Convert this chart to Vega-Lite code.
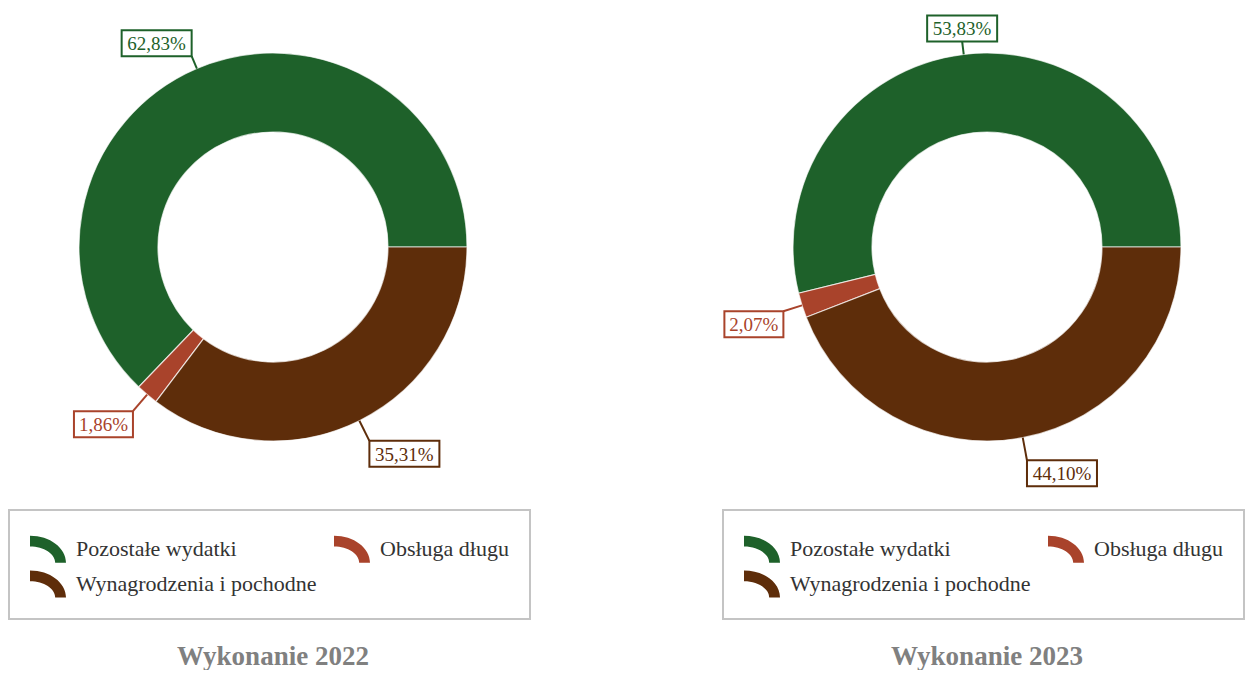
{
  "$schema": "https://vega.github.io/schema/vega-lite/v6.json",
  "background": "#ffffff",
  "padding": {"left": 8, "top": 0, "right": 0, "bottom": 0},
  "bounds": "flush",
  "spacing": 194,
  "config": {
    "view": {"stroke": null},
    "locale": {"number": {"decimal": ",", "thousands": "\u00a0", "grouping": [3], "currency": ["", " zł"]}}
  },
  "data": {
    "values": [
      {"rok": "2022", "kat": "Pozostałe wydatki", "udzial": 0.6283, "kolejnosc": 3},
      {"rok": "2022", "kat": "Obsługa długu", "udzial": 0.0186, "kolejnosc": 2},
      {"rok": "2022", "kat": "Wynagrodzenia i pochodne", "udzial": 0.3531, "kolejnosc": 1},
      {"rok": "2023", "kat": "Pozostałe wydatki", "udzial": 0.5383, "kolejnosc": 3},
      {"rok": "2023", "kat": "Obsługa długu", "udzial": 0.0207, "kolejnosc": 2},
      {"rok": "2023", "kat": "Wynagrodzenia i pochodne", "udzial": 0.4410, "kolejnosc": 1}
    ]
  },
  "resolve": {"scale": {"color": "independent", "stroke": "independent", "theta": "independent"}, "legend": {"color": "independent"}},
  "hconcat": [
    {
      "width": 520,
      "height": 494,
      "title": {"text": "Wykonanie 2022", "orient": "bottom", "anchor": "middle", "frame": "group", "offset": 24, "font": "Liberation Serif", "fontSize": 27, "fontWeight": "bold", "color": "#808080"},
      "transform": [
        {"filter": "datum.rok === '2022'"},
        {"window": [{"op": "sum", "field": "udzial", "as": "kon"}], "sort": [{"field": "kolejnosc", "order": "ascending"}], "frame": [null, 0]}
      ],
      "encoding": {
        "order": {"field": "kolejnosc", "type": "quantitative"},
        "color": {
          "field": "kat", "type": "nominal",
          "scale": {"domain": ["Pozostałe wydatki", "Obsługa długu", "Wynagrodzenia i pochodne"], "range": ["#1e612a", "#a9432b", "#5e2d0a"]},
          "legend": {
            "title": null, "orient": "none", "legendX": -4, "legendY": 510,
            "direction": "horizontal", "columns": 2,
            "symbolType": "M -1 -0.75 A 2 1.5 0 0 1 1 0.75 L 0.4 0.75 A 1.4 0.9 0 0 0 -1 -0.15 Z",
            "symbolSize": 1296, "symbolStrokeWidth": 0,
            "labelFont": "Liberation Serif", "labelFontSize": 22, "labelColor": "#333333", "labelLimit": 400,
            "labelOffset": 10, "columnPadding": 17, "rowPadding": 3,
            "padding": 21, "strokeColor": "#c4c4c4", "fillColor": "#ffffff",
            "encode": {"legend": {"update": {"strokeWidth": {"value": 2}}}}
          }
        }
      },
      "layer": [
        {
          "mark": {"type": "arc", "outerRadius": 194, "innerRadius": 115, "stroke": "#ffffff", "strokeWidth": 1.2, "strokeOpacity": 0.7},
          "encoding": {"theta": {"field": "udzial", "type": "quantitative", "stack": true, "scale": {"domain": [0, 1], "range": [1.5707963, 7.8539816]}}}
        },
        {
          "mark": {"type": "rule", "strokeWidth": 2},
          "encoding": {
            "x": {"value": {"expr": "260 + 194*cos(2*PI*(datum.kon - datum.udzial/2))"}},
            "y": {"value": {"expr": "247 + 194*sin(2*PI*(datum.kon - datum.udzial/2))"}},
            "x2": {"value": {"expr": "260 + (212 + 5*sin(2*PI*(datum.kon - datum.udzial/2)))*cos(2*PI*(datum.kon - datum.udzial/2))"}},
            "y2": {"value": {"expr": "247 + (212 + 5*sin(2*PI*(datum.kon - datum.udzial/2)))*sin(2*PI*(datum.kon - datum.udzial/2))"}}
          }
        },
        {
          "mark": {"type": "rect", "strokeWidth": 2},
          "encoding": {
            "color": {"value": "#ffffff"},
            "stroke": {"field": "kat", "type": "nominal", "legend": null,
              "scale": {"domain": ["Pozostałe wydatki", "Obsługa długu", "Wynagrodzenia i pochodne"], "range": ["#1e612a", "#a9432b", "#5e2d0a"]}},
            "x": {"value": {"expr": "260 + (212 + 5*sin(2*PI*(datum.kon - datum.udzial/2)))*cos(2*PI*(datum.kon - datum.udzial/2)) + (abs(cos(2*PI*(datum.kon - datum.udzial/2))) < 0.15 ? 0 : (cos(2*PI*(datum.kon - datum.udzial/2)) > 0 ? 1 : -1)) * (datum.udzial < 0.1 ? 29.5 : 35) - (datum.udzial < 0.1 ? 29.5 : 35)"}},
            "x2": {"value": {"expr": "260 + (212 + 5*sin(2*PI*(datum.kon - datum.udzial/2)))*cos(2*PI*(datum.kon - datum.udzial/2)) + (abs(cos(2*PI*(datum.kon - datum.udzial/2))) < 0.15 ? 0 : (cos(2*PI*(datum.kon - datum.udzial/2)) > 0 ? 1 : -1)) * (datum.udzial < 0.1 ? 29.5 : 35) + (datum.udzial < 0.1 ? 29.5 : 35)"}},
            "y": {"value": {"expr": "247 + (212 + 5*sin(2*PI*(datum.kon - datum.udzial/2)))*sin(2*PI*(datum.kon - datum.udzial/2)) + (sin(2*PI*(datum.kon - datum.udzial/2)) < 0 ? -1 : 1) * 13 - 13"}},
            "y2": {"value": {"expr": "247 + (212 + 5*sin(2*PI*(datum.kon - datum.udzial/2)))*sin(2*PI*(datum.kon - datum.udzial/2)) + (sin(2*PI*(datum.kon - datum.udzial/2)) < 0 ? -1 : 1) * 13 + 13"}}
          }
        },
        {
          "mark": {"type": "text", "font": "Liberation Serif", "fontSize": 19, "align": "center", "baseline": "middle"},
          "encoding": {
            "text": {"field": "udzial", "type": "quantitative", "format": ".2%"},
            "x": {"value": {"expr": "260 + (212 + 5*sin(2*PI*(datum.kon - datum.udzial/2)))*cos(2*PI*(datum.kon - datum.udzial/2)) + (abs(cos(2*PI*(datum.kon - datum.udzial/2))) < 0.15 ? 0 : (cos(2*PI*(datum.kon - datum.udzial/2)) > 0 ? 1 : -1)) * (datum.udzial < 0.1 ? 29.5 : 35)"}},
            "y": {"value": {"expr": "247.7 + (212 + 5*sin(2*PI*(datum.kon - datum.udzial/2)))*sin(2*PI*(datum.kon - datum.udzial/2)) + (sin(2*PI*(datum.kon - datum.udzial/2)) < 0 ? -1 : 1) * 13"}}
          }
        }
      ]
    },
    {
      "width": 520,
      "height": 494,
      "title": {"text": "Wykonanie 2023", "orient": "bottom", "anchor": "middle", "frame": "group", "offset": 24, "font": "Liberation Serif", "fontSize": 27, "fontWeight": "bold", "color": "#808080"},
      "transform": [
        {"filter": "datum.rok === '2023'"},
        {"window": [{"op": "sum", "field": "udzial", "as": "kon"}], "sort": [{"field": "kolejnosc", "order": "ascending"}], "frame": [null, 0]}
      ],
      "encoding": {
        "order": {"field": "kolejnosc", "type": "quantitative"},
        "color": {
          "field": "kat", "type": "nominal",
          "scale": {"domain": ["Pozostałe wydatki", "Obsługa długu", "Wynagrodzenia i pochodne"], "range": ["#1e612a", "#a9432b", "#5e2d0a"]},
          "legend": {
            "title": null, "orient": "none", "legendX": -4, "legendY": 510,
            "direction": "horizontal", "columns": 2,
            "symbolType": "M -1 -0.75 A 2 1.5 0 0 1 1 0.75 L 0.4 0.75 A 1.4 0.9 0 0 0 -1 -0.15 Z",
            "symbolSize": 1296, "symbolStrokeWidth": 0,
            "labelFont": "Liberation Serif", "labelFontSize": 22, "labelColor": "#333333", "labelLimit": 400,
            "labelOffset": 10, "columnPadding": 17, "rowPadding": 3,
            "padding": 21, "strokeColor": "#c4c4c4", "fillColor": "#ffffff",
            "encode": {"legend": {"update": {"strokeWidth": {"value": 2}}}}
          }
        }
      },
      "layer": [
        {
          "mark": {"type": "arc", "outerRadius": 194, "innerRadius": 115, "stroke": "#ffffff", "strokeWidth": 1.2, "strokeOpacity": 0.7},
          "encoding": {"theta": {"field": "udzial", "type": "quantitative", "stack": true, "scale": {"domain": [0, 1], "range": [1.5707963, 7.8539816]}}}
        },
        {
          "mark": {"type": "rule", "strokeWidth": 2},
          "encoding": {
            "x": {"value": {"expr": "260 + 194*cos(2*PI*(datum.kon - datum.udzial/2))"}},
            "y": {"value": {"expr": "247 + 194*sin(2*PI*(datum.kon - datum.udzial/2))"}},
            "x2": {"value": {"expr": "260 + (212 + 5*sin(2*PI*(datum.kon - datum.udzial/2)))*cos(2*PI*(datum.kon - datum.udzial/2))"}},
            "y2": {"value": {"expr": "247 + (212 + 5*sin(2*PI*(datum.kon - datum.udzial/2)))*sin(2*PI*(datum.kon - datum.udzial/2))"}}
          }
        },
        {
          "mark": {"type": "rect", "strokeWidth": 2},
          "encoding": {
            "color": {"value": "#ffffff"},
            "stroke": {"field": "kat", "type": "nominal", "legend": null,
              "scale": {"domain": ["Pozostałe wydatki", "Obsługa długu", "Wynagrodzenia i pochodne"], "range": ["#1e612a", "#a9432b", "#5e2d0a"]}},
            "x": {"value": {"expr": "260 + (212 + 5*sin(2*PI*(datum.kon - datum.udzial/2)))*cos(2*PI*(datum.kon - datum.udzial/2)) + (abs(cos(2*PI*(datum.kon - datum.udzial/2))) < 0.15 ? 0 : (cos(2*PI*(datum.kon - datum.udzial/2)) > 0 ? 1 : -1)) * (datum.udzial < 0.1 ? 29.5 : 35) - (datum.udzial < 0.1 ? 29.5 : 35)"}},
            "x2": {"value": {"expr": "260 + (212 + 5*sin(2*PI*(datum.kon - datum.udzial/2)))*cos(2*PI*(datum.kon - datum.udzial/2)) + (abs(cos(2*PI*(datum.kon - datum.udzial/2))) < 0.15 ? 0 : (cos(2*PI*(datum.kon - datum.udzial/2)) > 0 ? 1 : -1)) * (datum.udzial < 0.1 ? 29.5 : 35) + (datum.udzial < 0.1 ? 29.5 : 35)"}},
            "y": {"value": {"expr": "247 + (212 + 5*sin(2*PI*(datum.kon - datum.udzial/2)))*sin(2*PI*(datum.kon - datum.udzial/2)) + (sin(2*PI*(datum.kon - datum.udzial/2)) < 0 ? -1 : 1) * 13 - 13"}},
            "y2": {"value": {"expr": "247 + (212 + 5*sin(2*PI*(datum.kon - datum.udzial/2)))*sin(2*PI*(datum.kon - datum.udzial/2)) + (sin(2*PI*(datum.kon - datum.udzial/2)) < 0 ? -1 : 1) * 13 + 13"}}
          }
        },
        {
          "mark": {"type": "text", "font": "Liberation Serif", "fontSize": 19, "align": "center", "baseline": "middle"},
          "encoding": {
            "text": {"field": "udzial", "type": "quantitative", "format": ".2%"},
            "x": {"value": {"expr": "260 + (212 + 5*sin(2*PI*(datum.kon - datum.udzial/2)))*cos(2*PI*(datum.kon - datum.udzial/2)) + (abs(cos(2*PI*(datum.kon - datum.udzial/2))) < 0.15 ? 0 : (cos(2*PI*(datum.kon - datum.udzial/2)) > 0 ? 1 : -1)) * (datum.udzial < 0.1 ? 29.5 : 35)"}},
            "y": {"value": {"expr": "247.7 + (212 + 5*sin(2*PI*(datum.kon - datum.udzial/2)))*sin(2*PI*(datum.kon - datum.udzial/2)) + (sin(2*PI*(datum.kon - datum.udzial/2)) < 0 ? -1 : 1) * 13"}}
          }
        }
      ]
    }
  ]
}
